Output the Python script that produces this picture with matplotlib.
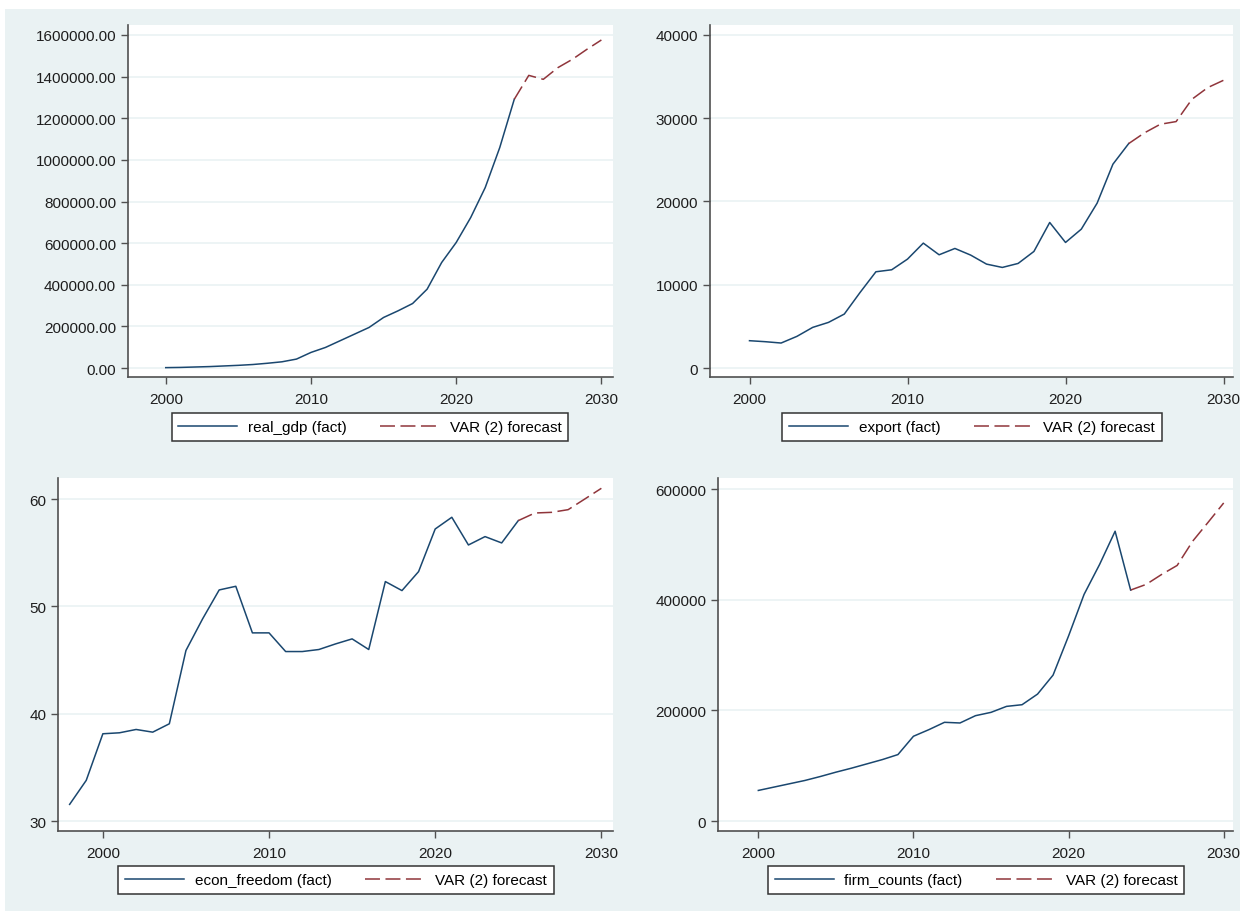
import numpy as np
import matplotlib
matplotlib.use('Agg')
import matplotlib.pyplot as plt
from matplotlib.patches import Rectangle
from matplotlib.ticker import FuncFormatter

plt.rcParams['font.family'] = ['Liberation Sans', 'DejaVu Sans']

# --- data ---
gdp_years = list(range(2000, 2025))
gdp_fact = [2000, 3000, 5000, 7000, 10000, 13000, 17000, 23000, 30000, 43000,
            75000, 99000, 131000, 163000, 195000, 243000, 275000, 310000, 379000, 507000,
            603000, 723000, 867000, 1059000, 1291000]
gdp_fc_years = list(range(2024, 2031))
gdp_fc = [1291000, 1406000, 1387000, 1443000, 1483000, 1531000, 1576000]

exp_years = list(range(2000, 2025))
exp_fact = [3280, 3160, 3000, 3800, 4880, 5480, 6480, 9080, 11560, 11800,
            13080, 15000, 13600, 14360, 13560, 12480, 12080, 12560, 14000, 17480,
            15080, 16680, 19800, 24480, 26960]
exp_fc_years = list(range(2024, 2031))
exp_fc = [26960, 28250, 29280, 29600, 32280, 33680, 34560]

ef_years = list(range(1998, 2026))
ef_fact = [31.55, 33.79, 38.13, 38.22, 38.53, 38.28, 39.06, 45.89, 48.83, 51.53,
           51.87, 47.53, 47.53, 45.79, 45.79, 45.98, 46.5, 46.97, 45.98, 52.31,
           51.47, 53.24, 57.21, 58.30, 55.72, 56.5, 55.91, 57.99]
ef_fc_years = list(range(2025, 2031))
ef_fc = [57.99, 58.7, 58.76, 59.01, 60.0, 61.0]

fc_years = list(range(2000, 2025))
fc_fact = [55300, 61300, 67300, 73300, 80500, 88300, 95500, 103300, 111100, 120100,
           153200, 165200, 178400, 177200, 190400, 196400, 207200, 210200, 229400, 263700,
           334500, 409600, 463700, 523700, 417400]
fc_fc_years = list(range(2024, 2031))
fc_fc = [417400, 427600, 445600, 461900, 505700, 540000, 574800]

BLUE = '#1a476f'
RED = '#90353b'
BG = '#eaf2f3'

W, H = 1240, 912
fig = plt.figure(figsize=(W / 100, H / 100), dpi=100)
fig.patch.set_facecolor('white')
fig.patches.append(Rectangle((5 / W, 0), 1 - 5 / W, 1 - 10 / H, transform=fig.transFigure,
                             facecolor=BG, edgecolor='none', zorder=-10))


def px_axes(x0, y0, x1, y1):
    return fig.add_axes([x0 / W, 1 - y1 / H, (x1 - x0) / W, (y1 - y0) / H])


panels = [
    # box, years, fact, fc years, fc, label, yticks, ylim, fmt, legend centre
    ((128, 26, 613, 378), gdp_years, gdp_fact, gdp_fc_years, gdp_fc, 'real_gdp (fact)',
     np.arange(0, 1600001, 200000), (-43000, 1648000), '{:.2f}', (370, 428)),
    ((710, 26, 1233, 378), exp_years, exp_fact, exp_fc_years, exp_fc, 'export (fact)',
     np.arange(0, 40001, 10000), (-1080, 41200), '{:.0f}', (972, 428)),
    ((58, 479, 613, 832), ef_years, ef_fact, ef_fc_years, ef_fc, 'econ_freedom (fact)',
     np.arange(30, 61, 10), (29.07, 61.96), '{:.0f}', (336, 881)),
    ((718, 479, 1233, 832), fc_years, fc_fact, fc_fc_years, fc_fc, 'firm_counts (fact)',
     np.arange(0, 600001, 200000), (-18000, 619900), '{:.0f}', (976, 881)),
]
xlims = [(1997.4, 2030.8), (1997.5, 2030.6), (1997.3, 2030.7), (1997.4, 2030.6)]

for (box, yrs, fact, fyrs, fc, lab, yt, ylim, fmt, lc), xl in zip(panels, xlims):
    ax = px_axes(*box)
    ax.set_facecolor('white')
    ax.plot(yrs, fact, color=BLUE, lw=1.1, label=lab, zorder=3)
    ax.plot(fyrs, fc, color=RED, lw=1.1, ls=(0, (9.8, 3.6)), label='VAR (2) forecast', zorder=3)
    ax.set_xlim(*xl)
    ax.set_ylim(*ylim)
    ax.set_xticks([2000, 2010, 2020, 2030])
    ax.set_yticks(yt)
    ax.yaxis.set_major_formatter(FuncFormatter(lambda v, p, f=fmt: f.format(v)))
    ax.grid(axis='y', color=BG, lw=1.2, zorder=1)
    ax.set_axisbelow(True)
    for s in ['top', 'right']:
        ax.spines[s].set_visible(False)
    for s in ['left', 'bottom']:
        ax.spines[s].set_color('#505050')
        ax.spines[s].set_linewidth(1.2)
    ax.tick_params(axis='both', labelsize=11, colors='#505050', labelcolor='#1e1e1e',
                   length=5, width=1)
    ax.tick_params(axis='x', pad=6)
    leg = ax.legend(loc='center', bbox_to_anchor=(lc[0] / W, 1 - lc[1] / H),
                    bbox_transform=fig.transFigure, ncol=2, fontsize=11,
                    frameon=True, fancybox=False, framealpha=1, handlelength=3.85,
                    columnspacing=2.2, handletextpad=0.7, borderpad=0.45)
    leg.get_frame().set_edgecolor('#333333')
    leg.get_frame().set_linewidth(1.1)

fig.savefig('out.png', dpi=100, facecolor=fig.get_facecolor())
